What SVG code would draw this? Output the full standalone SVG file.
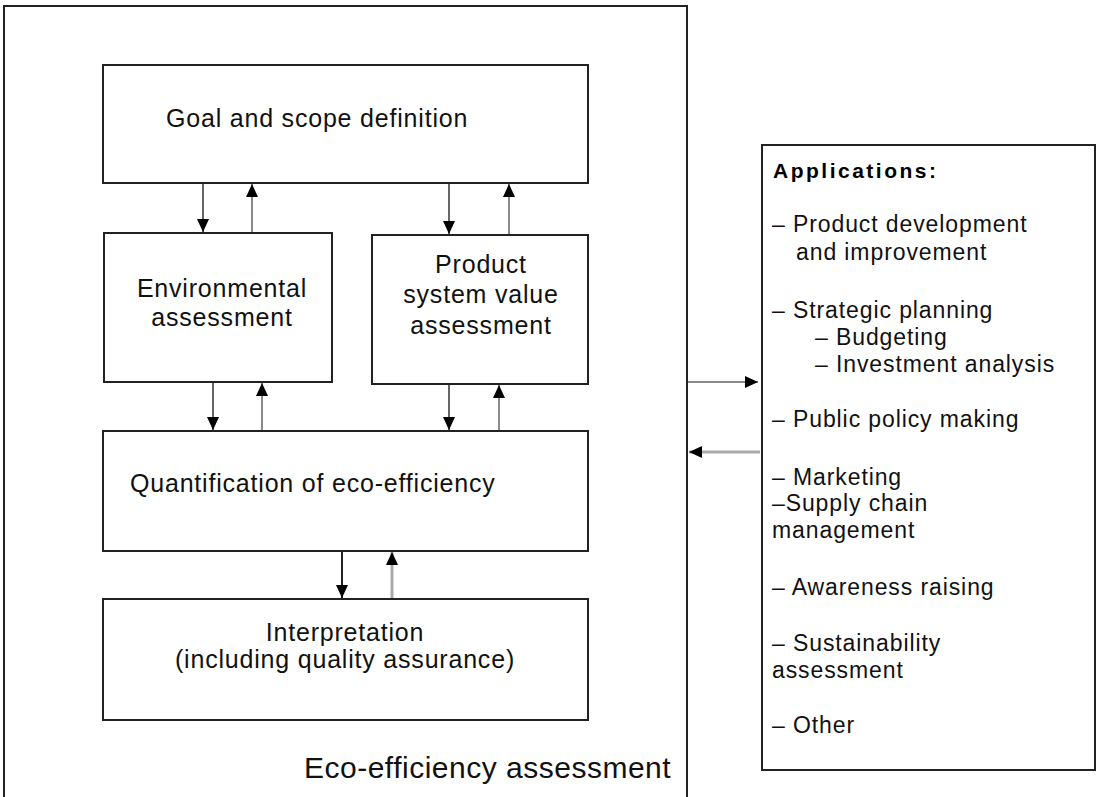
<svg xmlns="http://www.w3.org/2000/svg" width="1097" height="797" viewBox="0 0 1097 797">
<style>
.box{fill:#fff;stroke:#222;stroke-width:2}
.lbl{font-family:"Liberation Sans",Arial,sans-serif;font-size:25px;letter-spacing:0.8px;fill:#111}
.mid{text-anchor:middle}
.app{font-family:"Liberation Sans",Arial,sans-serif;font-size:23px;letter-spacing:0.9px;fill:#111}
.head{font-family:"Liberation Sans",Arial,sans-serif;font-size:21px;font-weight:bold;letter-spacing:2.5px;fill:#000}
.big{font-family:"Liberation Sans",Arial,sans-serif;font-size:30px;letter-spacing:0.5px;fill:#111}
.dn{stroke:#666;stroke-width:2;fill:none}
.up{stroke:#8a8a8a;stroke-width:2;fill:none}
.dk{stroke:#222;stroke-width:2;fill:none}
.lt{stroke:#aaa;stroke-width:3;fill:none}
</style>
<defs>
<marker id="ah" markerUnits="userSpaceOnUse" markerWidth="13" markerHeight="12" refX="13" refY="6" orient="auto">
<path d="M0,0 L13,6 L0,12 z" fill="#000"/>
</marker>
</defs>
<g id="outer">
<rect x="4" y="6" width="683" height="800" fill="none" stroke="#222" stroke-width="2"/>
<text class="big" x="304" y="778">Eco-efficiency assessment</text>
</g>
<g id="goal">
<rect class="box" x="103" y="65" width="485" height="118"/>
<text class="lbl" x="166" y="127">Goal and scope definition</text>
</g>
<g id="env">
<rect class="box" x="104" y="233" width="228" height="149"/>
<text class="lbl mid" x="222" y="297">Environmental</text>
<text class="lbl mid" x="222" y="326">assessment</text>
</g>
<g id="product">
<rect class="box" x="372" y="235" width="216" height="149"/>
<text class="lbl mid" x="481" y="273">Product</text>
<text class="lbl mid" x="481" y="303">system value</text>
<text class="lbl mid" x="481" y="334">assessment</text>
</g>
<g id="quant">
<rect class="box" x="103" y="431" width="485" height="120"/>
<text class="lbl" x="130" y="492">Quantification of eco-efficiency</text>
</g>
<g id="interp">
<rect class="box" x="103" y="599" width="485" height="121"/>
<text class="lbl mid" x="345" y="641">Interpretation</text>
<text class="lbl mid" x="345" y="668">(including quality assurance)</text>
</g>
<g id="applications">
<rect class="box" x="762" y="145" width="333" height="625"/>
<text class="head" x="773" y="178">Applications:</text>
<text class="app" x="772" y="232">– Product development</text>
<text class="app" x="796" y="260">and improvement</text>
<text class="app" x="772" y="318">– Strategic planning</text>
<text class="app" x="815" y="345">– Budgeting</text>
<text class="app" x="815" y="372">– Investment analysis</text>
<text class="app" x="772" y="427">– Public policy making</text>
<text class="app" x="772" y="485">– Marketing</text>
<text class="app" x="772" y="511">–Supply chain</text>
<text class="app" x="772" y="538">management</text>
<text class="app" x="772" y="595">– Awareness raising</text>
<text class="app" x="772" y="651">– Sustainability</text>
<text class="app" x="772" y="678">assessment</text>
<text class="app" x="772" y="733">– Other</text>
</g>
<g id="connectors">
<line class="dn" x1="203" y1="184" x2="203" y2="232" marker-end="url(#ah)"/>
<line class="up" x1="252" y1="232" x2="252" y2="184" marker-end="url(#ah)"/>
<line class="dn" x1="449" y1="184" x2="449" y2="234" marker-end="url(#ah)"/>
<line class="up" x1="509" y1="234" x2="509" y2="184" marker-end="url(#ah)"/>
<line class="dn" x1="213" y1="383" x2="213" y2="430" marker-end="url(#ah)"/>
<line class="up" x1="262" y1="430" x2="262" y2="383" marker-end="url(#ah)"/>
<line class="dn" x1="449" y1="385" x2="449" y2="430" marker-end="url(#ah)"/>
<line class="up" x1="499" y1="430" x2="499" y2="385" marker-end="url(#ah)"/>
<line class="dk" x1="342" y1="552" x2="342" y2="598" marker-end="url(#ah)"/>
<line class="lt" x1="392" y1="598" x2="392" y2="552" marker-end="url(#ah)"/>
<line class="up" x1="688" y1="382" x2="758" y2="382" marker-end="url(#ah)"/>
<line class="lt" x1="760" y1="452" x2="689" y2="452" marker-end="url(#ah)"/>
</g>
</svg>
